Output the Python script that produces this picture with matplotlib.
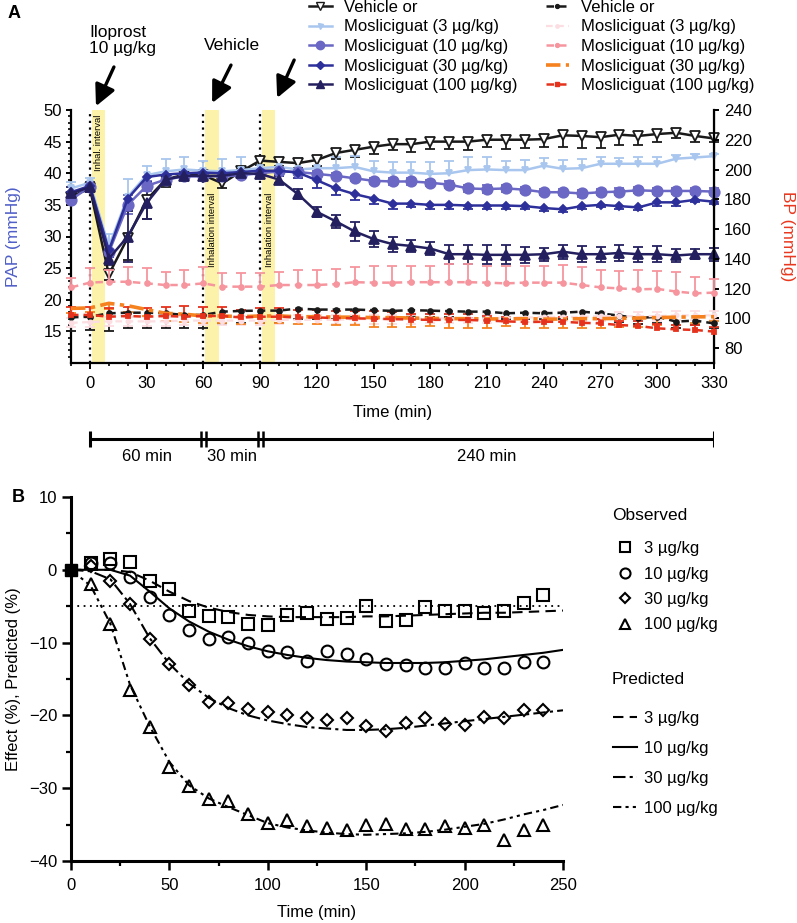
import numpy as np
import matplotlib
matplotlib.use("Agg")
import matplotlib.pyplot as plt
from matplotlib.lines import Line2D
from matplotlib.ticker import MultipleLocator, FixedLocator

plt.rcParams['font.family'] = ['Liberation Sans', 'DejaVu Sans']
plt.rcParams['font.size'] = 12

W, H = 797, 923


def fx(px):
    return px / W


def fy(py):
    return 1 - py / H


# ---------------- panel A data (PAP left axis, BP right axis) ----------------
time_a = np.arange(-10, 331, 10)

pap_vehicle = [36.3, 37.6, 24.0, 29.8, 35.8, 39.0, 39.8, 39.7, 38.4, 40.3, 42.0, 41.8,
               41.6, 42.1, 43.2, 43.7, 44.2, 44.6, 44.6, 45.0, 45.0, 45.0, 45.3, 45.3,
               45.3, 45.4, 46.0, 45.9, 45.7, 46.1, 45.9, 46.2, 46.4, 45.9, 45.5]
pap_m3 = [37.6, 38.5, 28.4, 36.3, 39.7, 40.3, 40.6, 40.4, 40.3, 40.5, 40.8, 41.0,
          40.6, 40.8, 40.8, 41.0, 40.3, 40.1, 40.1, 39.9, 40.0, 40.5, 40.6, 40.5,
          40.5, 41.2, 40.7, 40.8, 41.5, 41.5, 41.5, 41.5, 42.3, 42.5, 42.7]
pap_m10 = [35.8, 37.9, 27.5, 35.0, 38.0, 39.0, 39.5, 39.5, 39.5, 39.7, 40.0, 40.3,
           40.2, 39.9, 39.6, 39.2, 38.8, 38.7, 38.7, 38.5, 38.2, 37.6, 37.5, 37.6,
           37.4, 37.0, 37.0, 36.8, 37.0, 37.1, 37.3, 37.2, 37.2, 37.2, 37.1]
pap_m30 = [37.0, 38.0, 27.8, 36.0, 39.4, 39.8, 40.0, 40.1, 40.0, 40.2, 40.4, 40.4,
           40.1, 38.9, 37.6, 36.7, 36.0, 35.2, 35.2, 35.0, 35.0, 34.9, 34.9, 34.9,
           34.8, 34.5, 34.3, 34.8, 35.0, 34.8, 34.6, 35.4, 35.4, 35.8, 35.5]
pap_m100 = [36.8, 37.8, 26.5, 30.0, 35.3, 39.0, 39.6, 39.6, 39.6, 40.0, 39.9, 39.0,
            36.7, 33.9, 32.4, 30.8, 29.6, 28.8, 28.5, 28.1, 27.2, 27.2, 27.1, 27.1,
            27.1, 27.2, 27.6, 27.2, 27.2, 27.4, 27.2, 27.2, 27.0, 27.2, 27.2]

pap_vehicle_err = [0.8, 0.6, 0.8, 3.5, 3.0, 1.2, 0.8, 0.8, 0.8, 0.7, 0.7, 0.7, 0.8, 1.0,
                   1.0, 1.1, 1.1, 1.0, 1.2, 1.1, 1.2, 1.3, 1.2, 1.4, 1.3, 1.3, 1.8, 1.9,
                   1.7, 1.6, 1.4, 1.3, 0.9, 0.9, 0.6]
pap_m3_err = [1.0, 0.8, 2.0, 2.8, 1.5, 2.0, 2.0, 1.6, 2.0, 2.0, 1.5, 1.5, 1.8, 1.6, 1.8,
              1.8, 1.6, 1.6, 1.7, 1.9, 2.0, 2.1, 2.0, 1.4, 1.6, 1.2, 1.4, 1.4, 1.0, 0.9,
              1.1, 1.0, 0.6, 0.5, 0.4]
pap_m10_err = [0.4, 0.4, 0.6, 1.5, 0.8, 0.6, 0.5, 0.4, 0.4, 0.4, 0.4, 0.4, 0.4, 0.4, 0.4,
               0.4, 0.5, 0.5, 0.5, 0.5, 0.5, 0.6, 0.6, 0.5, 0.5, 0.5, 0.5, 0.5, 0.5, 0.5,
               0.5, 0.5, 0.5, 0.5, 0.5]
pap_m30_err = [0.8, 0.6, 1.0, 1.5, 0.8, 0.6, 0.5, 0.5, 0.5, 0.5, 0.5, 0.6, 0.8, 1.2, 1.1,
               1.0, 0.9, 0.8, 0.6, 0.6, 0.6, 0.6, 0.5, 0.5, 0.5, 0.5, 0.5, 0.4, 0.4, 0.4,
               0.4, 0.6, 0.5, 0.4, 0.4]
pap_m100_err = [1.0, 0.8, 1.0, 4.0, 2.5, 0.8, 0.6, 0.5, 0.5, 0.5, 0.5, 0.6, 0.8, 0.8, 1.0,
                1.5, 1.2, 1.2, 1.0, 1.0, 1.5, 1.5, 1.5, 1.5, 1.3, 1.0, 1.1, 1.3, 1.2, 1.3,
                1.2, 1.3, 1.0, 0.8, 1.0]

bp_vehicle = [100.7, 101.1, 103.4, 103.8, 103.8, 103.4, 102.3, 102.3, 104.5, 105.0, 105.2,
              105.2, 106.6, 105.9, 105.9, 105.9, 105.5, 105.0, 105.5, 105.2, 104.8, 104.5,
              104.5, 103.4, 103.8, 103.4, 103.8, 104.5, 103.4, 101.8, 100.2, 101.1, 97.8,
              98.5, 96.6]
bp_m3 = [97.0, 97.5, 98.0, 98.0, 98.0, 98.0, 98.5, 98.5, 98.5, 98.5, 98.5, 99.0, 99.0,
         99.0, 99.0, 99.5, 99.5, 99.5, 99.5, 100.0, 100.0, 100.0, 100.0, 100.5, 100.5,
         101.0, 101.0, 101.0, 101.5, 101.5, 101.5, 101.5, 102.0, 102.0, 102.0]
bp_m10 = [120.8, 124.0, 124.6, 124.6, 123.5, 122.4, 122.4, 123.5, 121.3, 121.3, 121.3,
          122.4, 122.4, 122.4, 123.0, 124.3, 124.0, 124.0, 124.3, 124.3, 124.3, 124.3,
          124.0, 123.5, 124.0, 124.0, 124.0, 122.4, 120.8, 120.1, 119.5, 119.8, 118.0,
          116.8, 117.3]
bp_m30 = [106.7, 107.0, 110.1, 108.5, 105.9, 103.4, 102.8, 101.6, 101.6, 101.1, 101.6,
          101.6, 101.1, 101.1, 100.8, 100.8, 100.5, 100.5, 100.2, 100.0, 99.8, 99.8, 99.6,
          99.6, 99.8, 99.5, 99.5, 99.8, 99.8, 100.0, 100.2, 100.5, 100.8, 101.0, 101.1]
bp_m100 = [102.3, 102.3, 101.1, 101.6, 101.1, 101.6, 101.1, 101.6, 101.6, 100.6, 101.1,
           101.1, 100.6, 100.6, 100.2, 100.0, 99.8, 99.5, 99.2, 99.0, 99.0, 98.9, 98.5,
           98.0, 97.5, 97.7, 97.7, 97.0, 96.6, 95.5, 94.9, 93.3, 92.6, 92.2, 91.1]

bp_vehicle_err = [9, 9, 12, 10, 10, 10, 9, 9, 8, 8, 8, 8, 7, 6, 6, 5, 5, 5, 4, 4, 4, 4, 4,
                  4, 4, 4, 4, 4, 4, 4, 4, 4, 4, 3, 3]
bp_m3_err = [3] * 35
bp_m10_err = [6, 10, 8, 10, 10, 9, 10, 11, 9, 9, 9, 9, 10, 10, 10, 10, 11, 11, 11, 11, 12,
              12, 11, 12, 11, 11, 12, 12, 12, 12, 13, 12, 13, 11, 9]
bp_m30_err = [3, 3, 4, 4, 4, 5, 5, 5, 5, 5, 5, 5, 5, 5, 5, 5, 6, 6, 6, 5, 6, 6, 6, 5, 6, 6,
              6, 6, 6, 6, 6, 5, 5, 4, 3]
bp_m100_err = [5, 5, 6, 6, 6, 6, 7, 6, 6, 5, 6, 6, 5, 5, 5, 5, 5, 5, 4, 4, 4, 4, 3, 3, 3,
               3, 3, 3, 3, 3, 3, 3, 3, 3, 3]

inhalation_starts = [0, 60, 90]
inhalation_len = 8
interval_labels = ['Inhal. interval', 'Inhalation interval', 'Inhalation interval']
timeline_breaks = [0, 60, 90, 330]
timeline_labels = ['60 min', '30 min', '240 min']

legend_labels_a = ['Vehicle or', 'Mosliciguat (3 µg/kg)', 'Mosliciguat (10 µg/kg)',
                   'Mosliciguat (30 µg/kg)', 'Mosliciguat (100 µg/kg)']

# ---------------- panel B data ----------------
time_obs = np.arange(10, 241, 10)
obs_3 = [1.0, 1.5, 1.1, -1.5, -2.7, -5.7, -6.3, -6.5, -7.5, -7.6, -6.2, -6.0, -6.7, -6.6,
         -5.0, -7.1, -6.95, -5.1, -5.7, -5.6, -5.9, -5.6, -4.5, -3.5]
obs_10 = [1.0, 1.0, -1.0, -3.8, -6.2, -8.3, -9.5, -9.2, -10.1, -11.2, -11.3, -12.5, -11.2,
          -11.5, -12.3, -12.9, -13.1, -13.5, -13.5, -12.8, -13.5, -13.5, -12.7, -12.7]
obs_30 = [0.5, -1.5, -4.7, -9.5, -13.0, -15.8, -18.2, -18.3, -19.1, -19.6, -19.9, -20.4,
          -20.7, -20.4, -21.5, -22.2, -21.1, -20.4, -21.2, -21.3, -20.2, -20.4, -19.2, -19.3]
obs_100 = [-2.0, -7.5, -16.5, -21.6, -27.1, -29.7, -31.5, -31.8, -33.6, -34.8, -34.4, -35.2,
           -35.4, -35.7, -35.0, -34.9, -35.6, -35.6, -35.2, -35.4, -35.0, -37.1, -35.7, -35.0]

time_pred = np.arange(0, 251, 10)
pred_3 = [0, 0, 0, -0.3, -1.5, -3.0, -4.3, -5.2, -5.8, -6.2, -6.4, -6.5, -6.5, -6.5, -6.5,
          -6.4, -6.4, -6.3, -6.2, -6.1, -6.0, -5.9, -5.9, -5.8, -5.7, -5.6]
pred_10 = [0, 0, 0, -0.8, -3.0, -5.3, -7.1, -8.5, -9.6, -10.5, -11.2, -11.7, -12.1, -12.4,
           -12.6, -12.7, -12.8, -12.8, -12.8, -12.7, -12.5, -12.3, -12.0, -11.7, -11.4, -11.0]
pred_30 = [0, -0.2, -1.3, -4.7, -9.4, -12.9, -15.6, -17.6, -19.0, -20.0, -20.7, -21.2, -21.6,
           -21.8, -22.0, -22.0, -21.9, -21.7, -21.4, -21.1, -20.8, -20.5, -20.2, -19.9, -19.6,
           -19.3]
pred_100 = [0, -2.2, -7.4, -15.8, -21.5, -26.4, -29.6, -31.4, -32.6, -33.7, -34.8, -35.4,
            -35.8, -36.1, -36.3, -36.4, -36.3, -36.2, -36.0, -35.7, -35.3, -34.9, -34.3, -33.6,
            -33.0, -32.3]
threshold = -5
dose_labels = ['3 µg/kg', '10 µg/kg', '30 µg/kg', '100 µg/kg']

# ---------------- styles ----------------
pap_styles = [
    dict(color='#1a1a1a', marker='v', ms=7, mfc='white', side='down'),
    dict(color='#a9c6ee', marker='v', ms=4.5, mfc='#a9c6ee', side='up'),
    dict(color='#6a68c4', marker='o', ms=7.5, mfc='#6a68c4', side='both'),
    dict(color='#2d2f9a', marker='D', ms=4.5, mfc='#2d2f9a', side='down'),
    dict(color='#24205f', marker='^', ms=6.5, mfc='#24205f', side='both'),
]
bp_styles = [
    dict(color='#1a1a1a', marker='o', ms=3.5, ls=(0, (3, 2)), lw=1.8, side='down'),
    dict(color='#fcdde1', marker='o', ms=3, ls=(0, (3, 2)), lw=1.6, side='both'),
    dict(color='#f6959d', marker='o', ms=3.5, ls=(0, (3, 2)), lw=1.8, side='up'),
    dict(color='#f5821f', marker=None, ms=0, ls=(0, (4, 1.5, 1.2, 1.5)), lw=2.6, side='down'),
    dict(color='#e5321d', marker='s', ms=3, ls=(0, (3, 2)), lw=1.8, side='up'),
]


def error_line(ax, x, y, err, st, ls='-', lw=1.8, z=3):
    y = np.asarray(y, float)
    err = np.asarray(err, float)
    zero = np.zeros_like(err)
    lower = err if st['side'] in ('down', 'both') else zero
    upper = err if st['side'] in ('up', 'both') else zero
    cont = ax.errorbar(x, y, yerr=[lower, upper], color=st['color'], ls=ls, lw=lw,
                       marker=st['marker'], ms=st['ms'],
                       mfc=st.get('mfc', st['color']), mec=st['color'], mew=1.3,
                       capsize=3.5, capthick=1.3, elinewidth=1.3, zorder=z, clip_on=False)
    for cap in cont[1]:
        if np.allclose(cap.get_ydata(), y):
            cap.set_visible(False)
    return cont


fig = plt.figure(figsize=(W / 100, H / 100), dpi=100)

# ---------------- panel A ----------------
axA = fig.add_axes([fx(71), fy(363), (714 - 71) / W, (363 - 110) / H])
axA.set_xlim(-10, 330)
axA.set_ylim(10, 50)
axR = axA.twinx()
axR.set_ylim(70, 240)

for s, lab in zip(inhalation_starts, interval_labels):
    axA.axvspan(s + 1, s + inhalation_len, color='#fdf2a9', lw=0, zorder=0)
    axA.axvline(s, color='black', ls=(0, (1, 2)), lw=1.6, zorder=1)
    if lab.startswith('Inhal.'):
        axA.text(s + 4.7, 49.3, lab, rotation=90, ha='center', va='top', fontsize=6.8)
    else:
        axA.text(s + 4.7, 25.2, lab, rotation=90, ha='center', va='bottom', fontsize=6.8)

for vals, errs, st in zip([pap_vehicle, pap_m3, pap_m10, pap_m30, pap_m100],
                          [pap_vehicle_err, pap_m3_err, pap_m10_err, pap_m30_err, pap_m100_err],
                          pap_styles):
    error_line(axA, time_a, vals, errs, st)

for vals, errs, st in zip([bp_vehicle, bp_m3, bp_m10, bp_m30, bp_m100],
                          [bp_vehicle_err, bp_m3_err, bp_m10_err, bp_m30_err, bp_m100_err],
                          bp_styles):
    error_line(axR, time_a, vals, errs, st, ls=st['ls'], lw=st['lw'])

axA.spines['top'].set_visible(False)
axR.spines['top'].set_visible(False)
for sp in ['left', 'bottom']:
    axA.spines[sp].set_linewidth(1.6)
axR.spines['right'].set_linewidth(1.6)
axR.spines['left'].set_visible(False)
axR.spines['bottom'].set_visible(False)

axA.xaxis.set_major_locator(MultipleLocator(30))
axA.xaxis.set_minor_locator(FixedLocator(np.arange(-10, 331, 10)))
axA.yaxis.set_major_locator(FixedLocator(np.arange(15, 51, 5)))
axA.yaxis.set_minor_locator(FixedLocator(np.arange(11, 51, 1)))
axR.yaxis.set_major_locator(FixedLocator(np.arange(80, 241, 20)))
axA.tick_params(axis='x', which='major', length=4.5, width=1.4, pad=5, labelsize=12)
axA.tick_params(axis='x', which='minor', length=2.5, width=1.2)
axA.tick_params(axis='y', which='major', length=3.6, width=1.4, pad=3, labelsize=12)
axA.tick_params(axis='y', which='minor', length=2, width=1.2)
axR.tick_params(axis='y', which='major', length=3.6, width=1.4, pad=3.5, labelsize=12)

axA.set_xlabel('Time (min)', fontsize=12)
axA.xaxis.set_label_coords(0.5, (363 - 405) / 253)
axA.set_ylabel('PAP (mmHg)', color='#4f5fc9', fontsize=12.5)
axA.yaxis.set_label_coords(-(71 - 21) / 643, 0.5)
axR.set_ylabel('BP (mmHg)', color='#e8381f', fontsize=12.5, rotation=270, va='bottom')
axR.yaxis.set_label_coords((780 - 71) / 643, 0.5)

# arrows and drug annotations
arrow_tips = [(3.2, 50.6), (64.6, 51.1), (99.0, 51.9)]
arrow_tails = [(12.7, 56.8), (74.6, 57.1), (108.0, 57.9)]
for tip, tail in zip(arrow_tips, arrow_tails):
    axA.annotate('', xy=tip, xytext=tail, annotation_clip=False,
                 arrowprops=dict(arrowstyle='-|>,head_length=0.85,head_width=0.42',
                                 mutation_scale=15, lw=2.4, color='black',
                                 shrinkA=0, shrinkB=0))
axA.text(-0.5, 61.0, 'Iloprost\n10 µg/kg', ha='left', va='center', fontsize=12.5,
         linespacing=1.1)
axA.text(75.2, 60.2, 'Vehicle', ha='center', va='center', fontsize=12.5)

# panel A legend (two columns)
pap_handles = [Line2D([], [], color=st['color'], marker=st['marker'], ms=st['ms'] * 0.8,
                      mfc=st['mfc'], mec=st['color'], lw=1.8) for st in pap_styles]
bp_handles = [Line2D([], [], color=st['color'], marker=st['marker'], ms=st['ms'] * 0.8,
                     mfc=st['color'], mec=st['color'], lw=st['lw'], ls=st['ls'])
              for st in bp_styles]
common = dict(loc='upper left', frameon=False, fontsize=12, labelspacing=0.27,
              handlelength=1.35, handletextpad=0.75, borderpad=0, borderaxespad=0,
              bbox_transform=fig.transFigure)
leg1 = fig.legend(pap_handles, legend_labels_a, bbox_to_anchor=(fx(309), fy(0)), **common)
leg2 = fig.legend(bp_handles, legend_labels_a, bbox_to_anchor=(fx(546), fy(0)), **common)

# ---------------- timeline ----------------
axT = fig.add_axes([fx(71), fy(475), (714 - 71) / W, 50 / H])
axT.set_xlim(-10, 330)
axT.set_ylim(0, 1)
axT.axis('off')
bar_y = 0.72
axT.plot([timeline_breaks[0], timeline_breaks[-1]], [bar_y, bar_y], color='black', lw=2.2,
         solid_capstyle='butt')
axT.vlines([timeline_breaks[0], timeline_breaks[-1]], bar_y - 0.16, bar_y + 0.16,
           color='black', lw=2.2)
for b in timeline_breaks[1:-1]:
    axT.vlines([b - 1.3, b + 1.3], bar_y - 0.16, bar_y + 0.16, color='black', lw=1.8)
for a, b, lab in zip(timeline_breaks[:-1], timeline_breaks[1:], timeline_labels):
    axT.text((a + b) / 2, 0.38, lab, ha='center', va='center', fontsize=12)

fig.text(fx(14), fy(14), 'A', fontsize=13, fontweight='bold', ha='center', va='center')

# ---------------- panel B ----------------
axB = fig.add_axes([fx(71), fy(861), (563 - 71) / W, (861 - 497) / H])
axB.set_xlim(0, 250)
axB.set_ylim(-40, 10)

axB.axhline(threshold, color='black', ls=(0, (1, 2.5)), lw=1.3, zorder=1)

pred_styles = [(0, (5, 3)), '-', (0, (6, 2, 1.5, 2)), (0, (4, 2, 1.5, 2, 1.5, 2))]
for vals, ls in zip([pred_3, pred_10, pred_30, pred_100], pred_styles):
    axB.plot(time_pred, vals, color='black', ls=ls, lw=1.5, zorder=2)

obs_markers = [('s', 8), ('o', 8.5), ('D', 6), ('^', 8)]
for vals, (m, ms) in zip([obs_3, obs_10, obs_30, obs_100], obs_markers):
    axB.plot(time_obs, vals, ls='none', marker=m, ms=ms, mfc='none', mec='black',
             mew=1.5, zorder=3, clip_on=False)
axB.plot([0], [0], ls='none', marker='s', ms=9, color='black', zorder=4, clip_on=False)

for sp in ['top', 'right']:
    axB.spines[sp].set_visible(False)
for sp in ['left', 'bottom']:
    axB.spines[sp].set_linewidth(2.2)
axB.xaxis.set_major_locator(MultipleLocator(50))
axB.xaxis.set_minor_locator(MultipleLocator(25))
axB.yaxis.set_major_locator(MultipleLocator(10))
axB.yaxis.set_minor_locator(MultipleLocator(5))
axB.tick_params(axis='both', which='major', length=6.5, width=1.8, labelsize=12)
axB.tick_params(axis='x', which='major', pad=6)
axB.tick_params(axis='y', which='major', pad=3.5)
axB.tick_params(axis='both', which='minor', length=3.5, width=1.6)
axB.set_xlabel('Time (min)', fontsize=12)
axB.xaxis.set_label_coords(0.5, (861 - 905) / 364)
axB.set_ylabel('Effect (%), Predicted (%)', fontsize=12)
axB.yaxis.set_label_coords(-(71 - 21) / 492, 0.5)

fig.text(fx(12), fy(497), 'B', fontsize=13, fontweight='bold', ha='left', va='center')

# panel B legends
fig.text(fx(612), fy(516), 'Observed', fontsize=12.5, ha='left', va='center')
fig.text(fx(612), fy(680), 'Predicted', fontsize=12.5, ha='left', va='center')
obs_handles = [Line2D([], [], ls='none', marker=m, ms=ms * 0.85, mfc='none', mec='black',
                      mew=1.5) for m, ms in obs_markers]
pred_handles = [Line2D([], [], color='black', ls=ls, lw=1.5) for ls in pred_styles]
legB = dict(loc='upper left', frameon=False, fontsize=12, handlelength=1.45,
            handletextpad=0.4, borderpad=0, borderaxespad=0, bbox_transform=fig.transFigure)
legO = axB.legend(obs_handles, dose_labels, bbox_to_anchor=(fx(613), fy(541)),
                  labelspacing=0.63, **legB)
axB.add_artist(legO)
axB.legend(pred_handles, dose_labels, bbox_to_anchor=(fx(613), fy(711)),
           labelspacing=0.9, **legB)

fig.savefig('out.png', dpi=100)
